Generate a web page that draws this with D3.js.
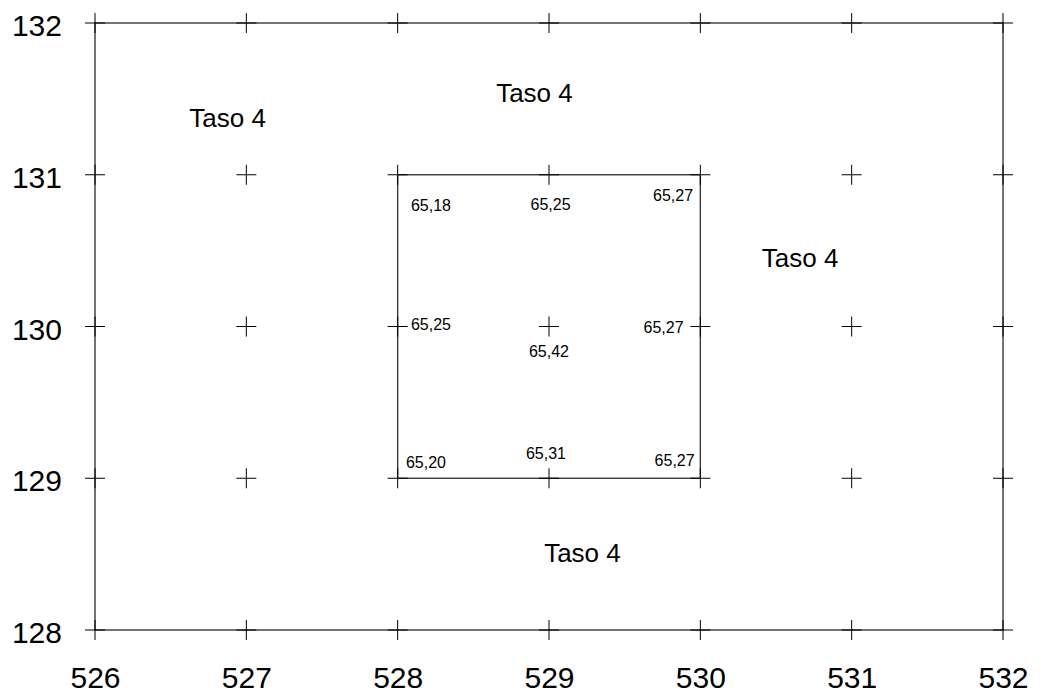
<!DOCTYPE html>
<html>
<head>
<meta charset="utf-8">
<script src="https://cdn.jsdelivr.net/npm/d3@7"></script>
<style>
  html, body { margin: 0; padding: 0; background: #fff; }
  svg { display: block; font-family: "Liberation Sans", Arial, Helvetica, sans-serif; }
</style>
</head>
<body>
<svg id="chart" width="1041" height="695"></svg>
<script>
// ---- data ----
const xTicks = [526, 527, 528, 529, 530, 531, 532];
const yTicks = [128, 129, 130, 131, 132];
const outerBlock = [526, 128, 532, 132];   // x0, y0, x1, y1
const innerBlock = [528, 129, 530, 131];
const valueLabels = ["65,18", "65,25", "65,27", "65,25", "65,42", "65,27", "65,20", "65,31", "65,27"];
const valueX = [528.22, 529.01, 529.82, 528.22, 529.00, 529.757, 528.187, 528.98, 529.83];
const valueY = [130.76, 130.77, 130.83, 129.98, 129.80, 129.96, 129.07, 129.13, 129.08];
const tasoLabels = ["Taso 4", "Taso 4", "Taso 4", "Taso 4"];
const tasoX = [526.876, 528.904, 530.659, 529.221];
const tasoY = [131.315, 131.48, 130.39, 128.448];

// ---- scales ----
const svg = d3.select("#chart");
const x = d3.scaleLinear().domain([526, 532]).range([95, 1003]);
const y = d3.scaleLinear().domain([128, 132]).range([630, 23]);

// ---- axes (labels only) ----
const ax = svg.append("g").attr("transform", `translate(95,0)`)
  .call(d3.axisLeft(y).tickValues(yTicks).tickSize(0).tickPadding(33).tickFormat(d3.format("d")));
ax.select(".domain").remove();
ax.selectAll("text").attr("font-size", 30).attr("font-family", "Liberation Sans, Arial, sans-serif")
  .attr("fill", "#000").attr("dy", "0.42em");

const bx = svg.append("g").attr("transform", `translate(0,630)`)
  .call(d3.axisBottom(x).tickValues(xTicks).tickSize(0).tickPadding(37).tickFormat(d3.format("d")));
bx.select(".domain").remove();
bx.selectAll("text").attr("font-size", 30).attr("font-family", "Liberation Sans, Arial, sans-serif")
  .attr("fill", "#000");

// ---- block outlines ----
[outerBlock, innerBlock].forEach(b => {
  svg.append("rect")
    .attr("x", x(b[0])).attr("y", y(b[3]))
    .attr("width", x(b[2]) - x(b[0])).attr("height", y(b[1]) - y(b[3]))
    .attr("fill", "none").attr("stroke", "#3a3a3a").attr("stroke-width", 1.4);
});

// ---- crosses ----
const pts = [];
yTicks.forEach(yy => xTicks.forEach(xx => pts.push([xx, yy])));
svg.append("g").selectAll("path").data(pts).join("path")
  .attr("d", d => {
    const px = x(d[0]), py = y(d[1]);
    return `M${px - 10},${py}H${px + 10}M${px},${py - 10}V${py + 10}`;
  })
  .attr("stroke", "#000").attr("stroke-width", 1).attr("fill", "none");

// ---- value labels ----
svg.append("g").selectAll("text").data(valueLabels).join("text")
  .attr("x", (d, i) => x(valueX[i])).attr("y", (d, i) => y(valueY[i]))
  .attr("text-anchor", "middle").attr("font-size", 16).attr("fill", "#000")
  .text(d => d);

// ---- level labels ----
svg.append("g").selectAll("text").data(tasoLabels).join("text")
  .attr("x", (d, i) => x(tasoX[i])).attr("y", (d, i) => y(tasoY[i]))
  .attr("text-anchor", "middle").attr("font-size", 26).attr("fill", "#000")
  .text(d => d);
</script>
</body>
</html>
